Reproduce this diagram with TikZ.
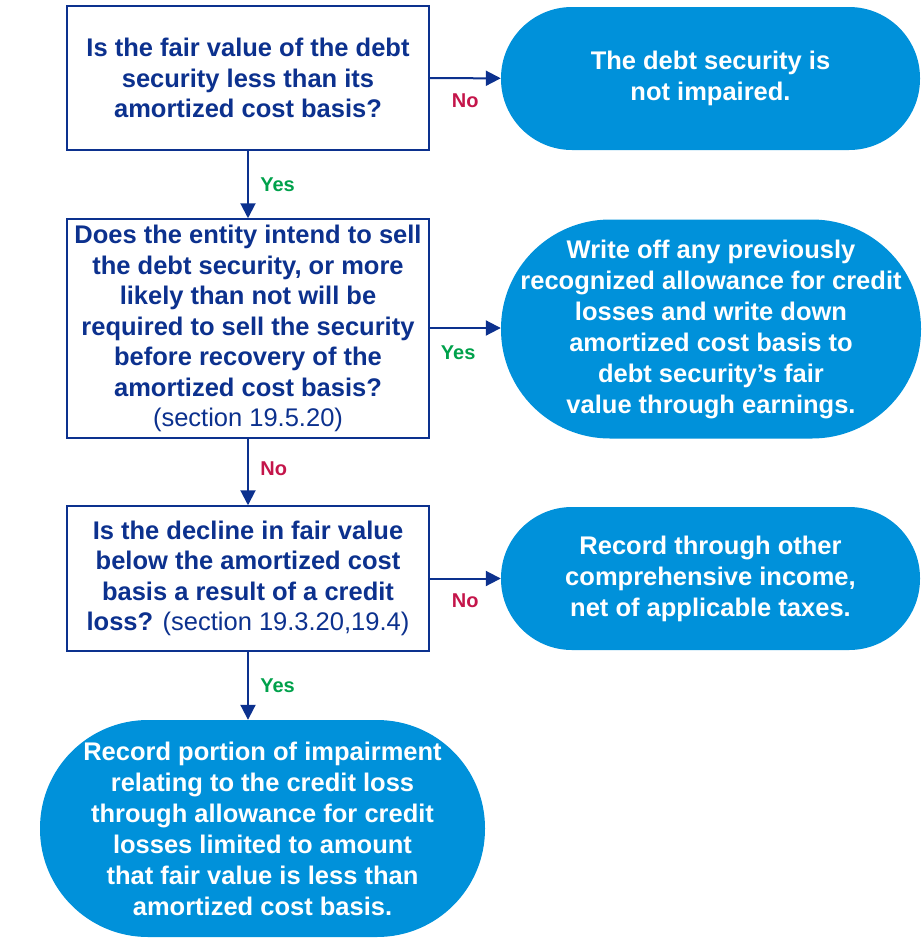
\documentclass[tikz,border=0pt]{standalone}
\usepackage{fontspec}
\setmainfont{Liberation Sans}
\usepackage{tikz}
\usetikzlibrary{arrows.meta}
\definecolor{navy}{HTML}{0C318E}
\definecolor{skyblue}{HTML}{0091DA}
\definecolor{noRed}{HTML}{C4154A}
\definecolor{yesGreen}{HTML}{00A14B}

\begin{document}
\begin{tikzpicture}[x=1pt,y=-1pt,
        question/.style={draw=navy,line width=1.5pt,fill=white,text=navy,align=center,
          minimum width=362pt,inner sep=0pt,font=\fontsize{25.5}{30.5}\selectfont\bfseries},
        outcome/.style={rectangle,fill=skyblue,text=white,align=center,inner sep=0pt,
          font=\fontsize{25.5}{31}\selectfont\bfseries},
        flow/.style={draw=navy,line width=2pt,-{Triangle[length=15pt,width=15pt]}},
        answer/.style={font=\fontsize{20}{24}\selectfont\bfseries}]
        \useasboundingbox (0,0) rectangle (922,938);
        \node [question,minimum height=144pt] (q1) at (248,78) {Is the fair value of the debt\\security less than its\\amortized cost basis?};
        \node [question,minimum height=219pt] (q2) at (248,328.5) {Does the entity intend to sell\\the debt security, or more\\likely than not will be\\required to sell the security\\before recovery of the\\amortized cost basis?\\{\mdseries (section 19.5.20)}};
        \node [question,minimum height=145pt] (q3) at (248,578.5) {Is the decline in fair value\\below the amortized cost\\basis a result of a credit\\loss? {\mdseries (section 19.3.20,19.4)}};
        \node [outcome,rounded corners=71pt,minimum width=419pt,minimum height=143pt] (notimp) at (710.5,78.5) {The debt security is\\not impaired.};
        \node [outcome,rounded corners=109pt,minimum width=420pt,minimum height=219pt] (writeoff) at (711,329) {Write off any previously\\recognized allowance for credit\\losses and write down\\amortized cost basis to\\debt security’s fair\\value through earnings.};
        \node [outcome,rounded corners=71pt,minimum width=419pt,minimum height=143pt] (oci) at (710.5,578.5) {Record through other\\comprehensive income,\\net of applicable taxes.};
        \node [outcome,rounded corners=108pt,minimum width=445pt,minimum height=217pt] (portion) at (262.5,828.5) {Record portion of impairment\\relating to the credit loss\\through allowance for credit\\losses limited to amount\\that fair value is less than\\amortized cost basis.};
        \draw [flow] (q1) -- (notimp) node [answer,text=noRed,pos=0.5,below=11pt] (a1) {No};
        \draw [flow] (q1) -- (q2) node [answer,text=yesGreen,pos=0.5,right=8pt] (a2) {Yes};
        \draw [flow] (q2.east |- 0,328) -- (writeoff.west |- 0,328) node [answer,text=yesGreen,pos=0.4,below=13pt] (a3) {Yes};
        \draw [flow] (q2) -- (q3) node [answer,text=noRed,pos=0.45,right=8pt] (a4) {No};
        \draw [flow] (q3) -- (oci) node [answer,text=noRed,pos=0.5,below=11pt] (a5) {No};
        \draw [flow] (q3.south) -- (q3.south |- portion.north) node [answer,text=yesGreen,pos=0.5,right=8pt] (a6) {Yes};
\end{tikzpicture}
\end{document}
